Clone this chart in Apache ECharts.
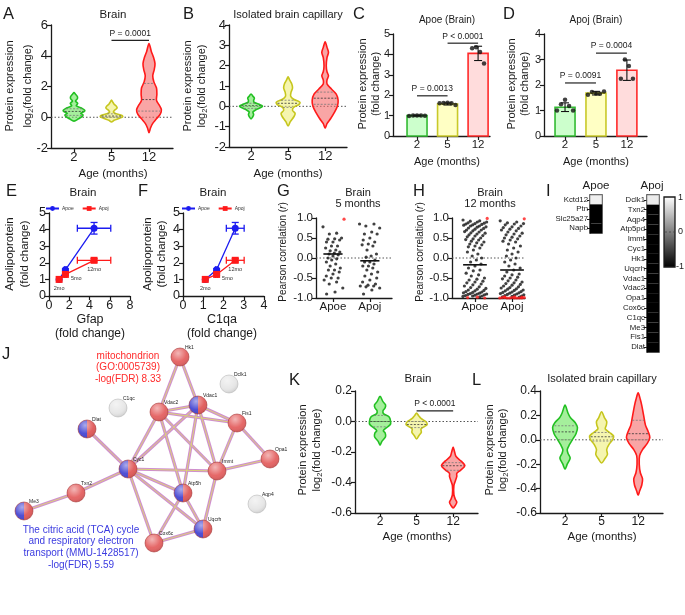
<!DOCTYPE html>
<html><head><meta charset="utf-8">
<script src="https://cdn.jsdelivr.net/npm/echarts@6/dist/echarts.min.js"></script>
<style>html,body{margin:0;padding:0;background:#fff}#c{width:685px;height:615px}</style>
</head><body><div id="c"></div>
<script>
const FONT='"Liberation Sans", Arial, Helvetica, sans-serif';
const INK='#1a1a1a';
// ================= DATA =================
const ageCats=['2','5','12'];
const apoCats=['Apoe','Apoj'];
// violin profiles: [y, half-width in category units]
const vioBrain2=[[-0.25,0],[-0.1,0.12],[0.05,0.22],[0.15,0.24],[0.25,0.18],[0.35,0.26],[0.45,0.29],[0.6,0.2],[0.75,0.06],[0.9,0.1],[1.05,0.04],[1.2,0.09],[1.35,0.09],[1.5,0.04],[1.6,0]];
const vioBrain5=[[-0.31,0],[-0.2,0.07],[-0.08,0.2],[0.03,0.3],[0.12,0.28],[0.22,0.12],[0.33,0.05],[0.45,0.08],[0.6,0.15],[0.72,0.13],[0.85,0.07],[1.0,0.03],[1.12,0]];
const vioBrain12=[[-1.0,0],[-0.7,0.04],[-0.4,0.1],[-0.1,0.2],[0.2,0.3],[0.5,0.33],[0.8,0.27],[1.1,0.2],[1.5,0.21],[1.9,0.2],[2.3,0.13],[2.7,0.1],[3.1,0.14],[3.5,0.16],[3.9,0.12],[4.3,0.06],[4.8,0]];
const qBrain=[[0.12,0.38,0.55],[0.0,0.08,0.22],[0.4,1.15,2.2]];
const vioCap2=[[-0.62,0],[-0.5,0.05],[-0.4,0.07],[-0.28,0.05],[-0.15,0.15],[0,0.31],[0.1,0.22],[0.2,0.08],[0.3,0.07],[0.4,0.09],[0.5,0.05],[0.6,0]];
const vioCap5=[[-0.97,0],[-0.75,0.06],[-0.5,0.16],[-0.35,0.19],[-0.2,0.12],[-0.05,0.15],[0.1,0.3],[0.2,0.32],[0.35,0.15],[0.5,0.07],[0.7,0.08],[0.9,0.12],[1.1,0.1],[1.3,0.04],[1.45,0]];
const vioCap12=[[-1.07,0],[-0.85,0.05],[-0.6,0.15],[-0.3,0.25],[0,0.33],[0.3,0.35],[0.6,0.3],[0.85,0.17],[1.1,0.05],[1.3,0.05],[1.5,0.09],[1.7,0.05],[2.0,0.03],[2.4,0.05],[2.65,0.09],[2.9,0.05],[3.17,0]];
const qCap=[[-0.1,0.03,0.15],[-0.05,0.15,0.3],[0.1,0.4,0.7]];
const vioMitoBrain2=[[-0.155,0],[-0.13,0.05],[-0.1,0.15],[-0.075,0.14],[-0.06,0.09],[-0.04,0.18],[-0.02,0.28],[0.0,0.29],[0.03,0.25],[0.05,0.1],[0.07,0.08],[0.09,0.14],[0.11,0.15],[0.13,0.08],[0.165,0]];
const vioMitoBrain5=[[-0.115,0],[-0.09,0.07],[-0.07,0.13],[-0.05,0.12],[-0.035,0.2],[-0.02,0.29],[0.0,0.25],[0.02,0.12],[0.04,0.05],[0.055,0]];
const vioMitoBrain12=[[-0.567,0],[-0.55,0.06],[-0.53,0.1],[-0.51,0.06],[-0.48,0.02],[-0.42,0.02],[-0.39,0.06],[-0.36,0.1],[-0.34,0.1],[-0.32,0.2],[-0.29,0.32],[-0.26,0.22],[-0.23,0.08],[-0.2,0.04],[-0.167,0]];
const qMitoBrain=[[-0.035,0.0,0.04],[-0.04,-0.02,0.0],[-0.32,-0.29,-0.27]];
const vioMitoCap2=[[-0.24,0],[-0.2,0.06],[-0.15,0.14],[-0.11,0.08],[-0.08,0.06],[-0.04,0.12],[0.0,0.2],[0.05,0.3],[0.1,0.34],[0.14,0.28],[0.18,0.15],[0.22,0.08],[0.285,0]];
const vioMitoCap5=[[-0.19,0],[-0.16,0.08],[-0.12,0.16],[-0.08,0.14],[-0.04,0.2],[0.0,0.3],[0.03,0.33],[0.06,0.22],[0.09,0.1],[0.12,0.13],[0.15,0.14],[0.18,0.08],[0.23,0]];
const vioMitoCap12=[[-0.455,0],[-0.42,0.04],[-0.37,0.1],[-0.32,0.12],[-0.27,0.06],[-0.2,0.03],[-0.13,0.04],[-0.08,0.12],[-0.03,0.25],[0.02,0.32],[0.07,0.27],[0.12,0.2],[0.2,0.15],[0.28,0.1],[0.33,0.06],[0.385,0]];
const qMitoCap=[[0.0,0.065,0.115],[-0.01,0.025,0.06],[0.0,0.05,0.16]];
// bars (fold change)
const apoeBrainMean=[1.0,1.57,4.05];
const apoeBrainSD=[0.02,0.05,0.35];
const apoeBrainPts=[[0.98,1.0,1.01,1.0,0.99],[1.6,1.62,1.63,1.6,1.52],[4.3,4.35,4.12,3.55]];
const apojBrainMean=[1.13,1.68,2.58];
const apojBrainSD=[0.17,0.07,0.4];
const apojBrainPts=[[1.0,1.25,1.42,1.18,1.0],[1.62,1.73,1.67,1.66,1.75],[2.25,3.0,2.75,2.25]];
// P-value annotations: [from, to, level, text]
const pBrain=[[2,3,5.0,'P = 0.0001']];
const pApoe=[[1,2,1.97,'P = 0.0013'],[2,3,4.55,'P < 0.0001']];
const pApoj=[[1,2,2.08,'P = 0.0091'],[2,3,3.25,'P = 0.0004']];
const pMitoBrain=[[2,3,0.07,'P < 0.0001']];
// E/F
const ageLabels=['2mo','5mo','12mo'];
const gfapFC=[1.0,1.62,4.45], gfapSD=[0,0.08,1.65];
const c1qaFC=[1.1,1.66,2.58], c1qaSD=[0,0.05,0.44];
const apoeFC=[1.0,1.58,4.08], apoeSD=[0,0.06,0.35];
const apojFC=[1.0,1.3,2.15], apojSD=[0,0.05,0.1];
// G/H Pearson r
const g5Apoe=[0.78,0.62,0.6,0.5,0.48,0.47,0.45,0.4,0.4,0.3,0.3,0.25,0.2,0.18,0.15,0.12,0.1,0.08,0.05,0.0,-0.02,-0.05,-0.1,-0.15,-0.2,-0.25,-0.3,-0.3,-0.35,-0.4,-0.45,-0.5,-0.5,-0.55,-0.6,-0.65,-0.75,-0.85,-0.9];
const g5ApoeRed=[0.97];
const g5Apoj=[0.85,0.85,0.8,0.75,0.65,0.6,0.6,0.5,0.45,0.4,0.35,0.33,0.3,0.2,0.1,0.05,0.02,-0.05,-0.1,-0.1,-0.15,-0.2,-0.2,-0.25,-0.3,-0.35,-0.4,-0.45,-0.5,-0.55,-0.6,-0.65,-0.68,-0.7,-0.7,-0.72,-0.75,-0.8,-0.9];
const g5Means=[0.1,-0.07];
const h12Apoe=[0.95,0.93,0.92,0.9,0.9,0.88,0.87,0.86,0.85,0.84,0.83,0.82,0.8,0.8,0.78,0.77,0.75,0.74,0.72,0.7,0.7,0.68,0.66,0.65,0.63,0.62,0.6,0.58,0.56,0.55,0.53,0.5,0.48,0.46,0.45,0.42,0.4,0.38,0.35,0.33,0.3,0.28,0.25,0.2,0.15,0.1,0.05,0.0,-0.05,-0.1,-0.15,-0.2,-0.25,-0.3,-0.32,-0.38,-0.42,-0.45,-0.5,-0.53,-0.55,-0.58,-0.6,-0.62,-0.65,-0.67,-0.7,-0.72,-0.74,-0.76,-0.78,-0.8,-0.81,-0.82,-0.84,-0.85,-0.86,-0.87,-0.88,-0.89,-0.9,-0.9,-0.91,-0.92,-0.93,-0.94,-0.95,-0.95,-0.96,-0.97];
const h12ApoeRed=[0.99,-0.98,-0.99,-1.0];
const h12Apoj=[0.93,0.9,0.88,0.86,0.85,0.83,0.8,0.78,0.76,0.74,0.72,0.7,0.68,0.65,0.62,0.6,0.58,0.55,0.52,0.5,0.48,0.45,0.42,0.4,0.35,0.3,0.25,0.2,0.15,0.1,0.05,0.0,-0.05,-0.1,-0.15,-0.2,-0.25,-0.3,-0.35,-0.4,-0.42,-0.45,-0.48,-0.5,-0.52,-0.55,-0.57,-0.6,-0.62,-0.64,-0.66,-0.68,-0.7,-0.72,-0.74,-0.75,-0.77,-0.78,-0.8,-0.81,-0.82,-0.84,-0.85,-0.86,-0.87,-0.88,-0.89,-0.9,-0.91,-0.92,-0.93,-0.94,-0.95,-0.96,-0.97,-0.98];
const h12ApojRed=[0.98,-0.97,-0.98,-0.98,-0.99,-0.99,-1.0,-1.0,-1.0,-1.0,-1.0,-0.99,-1.0,-0.98,-1.0];
const h12Means=[-0.17,-0.3];
// I heatmaps
const apoeGenes=['Kctd12','Ptn','Slc25a27','Napb'];
const apoeR=[0.95,-1,-1,-1];
const apojGenes=['Dclk1','Txn2','Aqp4','Atp5pd','Immt','Cyc1','Hk1','Uqcrh','Vdac1','Vdac2','Opa1','Cox6c','C1qc','Me3','Fis1','Dlat'];
const apojR=[0.92,-1,-1,-1,-1,-1,-1,-1,-1,-1,-1,-1,-1,-1,-1,-1];
// J network
const netNames=['Hk1','Vdac1','Vdac2','Dclk1','C1qc','Dlat','Fis1','Opa1','Cyc1','Immt','Atp5h','Txn2','Me3','Aqp4','Uqcrh','Cox6c'];
const netX=[180,198,159,229,118,87,237,270,128,217,183,76,24,257,203,154];
const netY=[357,405,412,384,408,429,423,459,469,471,493,493,511,504,529,543];
const netKind=['red','half','red','gray','gray','half','red','red','half','red','half','red','half','gray','half','red'];
const netEdges=[['Hk1','Vdac1'],['Hk1','Vdac2'],['Vdac1','Vdac2'],['Vdac1','Fis1'],['Vdac2','Fis1'],['Vdac1','Cyc1'],['Vdac2','Cyc1'],['Vdac1','Immt'],['Vdac2','Immt'],['Vdac1','Atp5h'],['Vdac2','Atp5h'],['Fis1','Immt'],['Fis1','Opa1'],['Immt','Opa1'],['Cyc1','Immt'],['Cyc1','Dlat'],['Cyc1','Txn2'],['Cyc1','Atp5h'],['Cyc1','Uqcrh'],['Cyc1','Cox6c'],['Immt','Uqcrh'],['Atp5h','Uqcrh'],['Atp5h','Cox6c'],['Cox6c','Uqcrh'],['Txn2','Me3']];

// ================= BUILD =================
const grids=[],xAxes=[],yAxes=[],series=[],graphics=[];
const VCOL=[{fill:'rgba(105,228,90,0.6)',stroke:'#22c022'},{fill:'rgba(236,236,110,0.55)',stroke:'#c6c61e'},{fill:'rgba(245,105,105,0.6)',stroke:'#ff1a1a'}];
const BFILL=['#ccffcc','#ffffc4','#ffdcdc'], BSTROKE=['#33bb33','#c9c92a','#ff2a2a'];

function vAxis(o){
  const ax={type:'value',min:o.min,max:o.max,splitLine:{show:false},show:o.show!==false,
    axisLine:{show:true,onZero:false,lineStyle:{color:INK,width:1.3}},
    axisTick:{show:true,length:4,lineStyle:{color:INK,width:1.2}},
    axisLabel:{show:true,color:INK,fontFamily:FONT,fontSize:o.fs||11,margin:o.margin||3}};
  if(o.interval!=null) ax.interval=o.interval;
  if(o.custom){ax.axisLabel.customValues=o.custom;ax.axisTick.customValues=o.custom;}
  if(o.fmt) ax.axisLabel.formatter=o.fmt;
  return ax;
}
function addGrid(l,t,w,h,xa,ya,extra){
  const gi=grids.length;
  grids.push(Object.assign({left:l,top:t,width:w,height:h},extra||{}));
  xa.gridIndex=gi; ya.gridIndex=gi; xAxes.push(xa); yAxes.push(ya); return gi;
}
function ln(a,b,st){return {type:'line',shape:{x1:a[0],y1:a[1],x2:b[0],y2:b[1]},style:st};}
function widthAt(prof,q){
  for(let k=1;k<prof.length;k++){
    if(q<=prof[k][0]){const [y0,w0]=prof[k-1],[y1,w1]=prof[k];return w0+(w1-w0)*(q-y0)/(y1-y0);}
  }return 0;
}
function zeroLine(gi,x0,x1){
  series.push({type:'line',xAxisIndex:gi,yAxisIndex:gi,data:[[x0,0],[x1,0]],symbol:'none',silent:true,z:1,
    lineStyle:{color:'#555',width:1,type:[1.5,2]}});
}
function violins(gi,profiles,quarts){
  series.push({type:'custom',xAxisIndex:gi,yAxisIndex:gi,silent:true,z:3,
    data:profiles.map((p,i)=>[i+1,p[0][0]]),encode:{x:0,y:1},
    renderItem:(params,api)=>{
      const i=params.dataIndex,prof=profiles[i],pos=i+1;
      const right=prof.map(([y,w])=>api.coord([pos+w,y]));
      const left=prof.slice(1,-1).reverse().map(([y,w])=>api.coord([pos-w,y]));
      const ch=[{type:'polygon',shape:{points:right.concat(left),smooth:0.3},style:{fill:VCOL[i].fill,stroke:VCOL[i].stroke,lineWidth:1.6}}];
      quarts[i].forEach((q,k)=>{const w=widthAt(prof,q)*0.92;
        ch.push(ln(api.coord([pos-w,q]),api.coord([pos+w,q]),{stroke:k===1?'#333':'#777',lineWidth:0.8,lineDash:[2,1.5]}));});
      return {type:'group',children:ch};
    }});
}
function pBars(gi,items){
  series.push({type:'custom',xAxisIndex:gi,yAxisIndex:gi,silent:true,z:6,
    data:items.map(d=>[d[0],d[2]]),encode:{x:0,y:1},
    renderItem:(params,api)=>{
      const d=items[params.dataIndex];const a=api.coord([d[0],d[2]]),b=api.coord([d[1],d[2]]);
      return {type:'group',children:[ln(a,b,{stroke:'#222',lineWidth:1.2}),
        {type:'text',x:(a[0]+b[0])/2,y:a[1]-7,style:{text:d[3],fontSize:8.5,fontFamily:FONT,fill:INK,align:'center',verticalAlign:'middle'}}]};
    }});
}
function bars(gi,means,sds,pts){
  series.push({type:'custom',xAxisIndex:gi,yAxisIndex:gi,silent:true,z:2,
    data:means.map((m,i)=>[i+1,m]),encode:{x:0,y:1},
    renderItem:(params,api)=>{const i=params.dataIndex;const t=api.coord([i+1,means[i]]),b=api.coord([i+1,0]);
      return {type:'rect',shape:{x:t[0]-10,y:t[1],width:20,height:b[1]-t[1]},style:{fill:BFILL[i],stroke:BSTROKE[i],lineWidth:1.6}};}});
  series.push({type:'custom',xAxisIndex:gi,yAxisIndex:gi,silent:true,z:4,
    data:means.map((m,i)=>[i+1,m]),encode:{x:0,y:1},
    renderItem:(params,api)=>{const i=params.dataIndex;const a=api.coord([i+1,means[i]-sds[i]]),b=api.coord([i+1,means[i]+sds[i]]);const st={stroke:'#111',lineWidth:1.1};
      return {type:'group',children:[ln(a,b,st),ln([a[0]-4,a[1]],[a[0]+4,a[1]],st),ln([b[0]-4,b[1]],[b[0]+4,b[1]],st)]};}});
  series.push({type:'scatter',xAxisIndex:gi,yAxisIndex:gi,silent:true,z:5,symbolSize:4.5,itemStyle:{color:'#111'},
    data:pts.flatMap((arr,i)=>arr.map((v,j)=>[i+1+(j-(arr.length-1)/2)*0.13,v]))});
}
function jit(i,spread){return ((((i*7)%11)/10)-0.5)*2*spread;}
function swarm(gi,groups,reds,means,spread,half){
  groups.forEach((arr,g)=>{
    series.push({type:'scatter',xAxisIndex:gi,yAxisIndex:gi,silent:true,z:4,symbolSize:3.2,itemStyle:{color:'#111'},
      data:arr.map((v,i)=>[g+1+jit(i,spread*(0.55+0.45*Math.abs(v))),v])});
    series.push({type:'scatter',xAxisIndex:gi,yAxisIndex:gi,silent:true,z:5,symbolSize:3.2,itemStyle:{color:'#ff1a1a'},
      data:reds[g].map((v,i)=>[g+1+jit(i+3,spread),v])});
  });
  series.push({type:'custom',xAxisIndex:gi,yAxisIndex:gi,silent:true,z:6,
    data:means.map((m,i)=>[i+1,m]),encode:{x:0,y:1},
    renderItem:(params,api)=>{const i=params.dataIndex;const a=api.coord([i+1-half,means[i]]),b=api.coord([i+1+half,means[i]]);
      return ln(a,b,{stroke:'#111',lineWidth:1.6});}});
}
function errs(gi,xs,ys,xsd,ysd,color){
  series.push({type:'custom',xAxisIndex:gi,yAxisIndex:gi,silent:true,z:4,
    data:xs.map((x,i)=>[x,ys[i]]),encode:{x:0,y:1},
    renderItem:(params,api)=>{const i=params.dataIndex,ch=[],st={stroke:color,lineWidth:1.3};
      if(xsd[i]>0){const a=api.coord([xs[i]-xsd[i],ys[i]]),b=api.coord([xs[i]+xsd[i],ys[i]]);
        ch.push(ln(a,b,st),ln([a[0],a[1]-3.5],[a[0],a[1]+3.5],st),ln([b[0],b[1]-3.5],[b[0],b[1]+3.5],st));}
      if(ysd[i]>0){const a=api.coord([xs[i],ys[i]-ysd[i]]),b=api.coord([xs[i],ys[i]+ysd[i]]);
        ch.push(ln(a,b,st),ln([a[0]-3.5,a[1]],[a[0]+3.5,a[1]],st),ln([b[0]-3.5,b[1]],[b[0]+3.5,b[1]],st));}
      return {type:'group',children:ch};}});
}
function fcLines(gi,xs,xsd){
  errs(gi,xs,apoeFC,xsd,apoeSD,'#1c1cf0');
  errs(gi,xs,apojFC,xsd,apojSD,'#ff1a1a');
  series.push({type:'line',name:'Apoe',xAxisIndex:gi,yAxisIndex:gi,z:5,data:xs.map((x,i)=>[x,apoeFC[i]]),
    symbol:'circle',symbolSize:7,color:'#1c1cf0',itemStyle:{color:'#1c1cf0'},lineStyle:{width:1.3,color:'#1c1cf0'}});
  const pos=['bottom',[9,5],'bottom'];
  series.push({type:'line',name:'Apoj',xAxisIndex:gi,yAxisIndex:gi,z:6,
    data:xs.map((x,i)=>({value:[x,apojFC[i]],label:{show:true,formatter:ageLabels[i],position:pos[i],distance:3,fontSize:5.5,fontFamily:FONT,color:'#333'}})),
    symbol:'rect',symbolSize:7,color:'#ff1a1a',itemStyle:{color:'#ff1a1a'},lineStyle:{width:1.3,color:'#ff1a1a'}});
}
function heat(l,t,w,h,genes,vals){
  const gi=addGrid(l,t,w,h,{type:'category',data:['r'],show:false,boundaryGap:true},
    {type:'category',data:genes,inverse:true,boundaryGap:true,
     axisLine:{show:true,lineStyle:{color:INK,width:1.2}},axisTick:{show:true,interval:0,length:3,alignWithLabel:true,lineStyle:{color:INK}},
     axisLabel:{interval:0,fontSize:7.8,fontFamily:FONT,color:INK,margin:2}},
    {show:true,borderColor:INK,borderWidth:1.4,backgroundColor:'transparent'});
  series.push({type:'custom',xAxisIndex:gi,yAxisIndex:gi,silent:true,z:2,
    data:vals.map((v,i)=>[0,i,v]),encode:{x:0,y:1},
    renderItem:(params,api)=>{const c=api.coord([api.value(0),api.value(1)]),s=api.size([1,1]);const v=api.value(2);const g=Math.round((v+1)/2*245);
      return {type:'rect',shape:{x:c[0]-s[0]/2,y:c[1]-s[1]/2,width:s[0],height:s[1]},style:{fill:`rgb(${g},${g},${g})`,stroke:'#999',lineWidth:v>0?0.8:0}};}});
}
const ageFmt=v=>ageCats[Math.round(v)-1]||'';
const apoFmt=v=>apoCats[Math.round(v)-1]||'';
// A
const gA=addGrid(51,25,122,123,vAxis({min:0.387,max:3.64,custom:[1,2,3],fmt:ageFmt,fs:13,margin:3}),vAxis({min:-2,max:6,interval:2,fs:13}));
zeroLine(gA,0.387,3.64);violins(gA,[vioBrain2,vioBrain5,vioBrain12],qBrain);pBars(gA,pBrain);
// B
const gB=addGrid(229,25,118,122,vAxis({min:0.405,max:3.59,custom:[1,2,3],fmt:ageFmt,fs:13,margin:3}),vAxis({min:-2,max:4,interval:1,fs:13}));
zeroLine(gB,0.405,3.59);violins(gB,[vioCap2,vioCap5,vioCap12],qCap);
// C
const gC=addGrid(393,34,97,102,vAxis({min:0.213,max:3.39,custom:[1,2,3],fmt:ageFmt,fs:11.5}),vAxis({min:0,max:5,interval:1,fs:11}));
bars(gC,apoeBrainMean,apoeBrainSD,apoeBrainPts);pBars(gC,pApoe);
// D
const gD=addGrid(544,34,103,102,vAxis({min:0.32,max:3.65,custom:[1,2,3],fmt:ageFmt,fs:11.5}),vAxis({min:0,max:4,interval:1,fs:11}));
bars(gD,apojBrainMean,apojBrainSD,apojBrainPts);pBars(gD,pApoj);
// E, F
const gE=addGrid(49,213,81,83,vAxis({min:0,max:8,interval:2,fs:12.5}),vAxis({min:0,max:5,interval:1,fs:12.5}));
fcLines(gE,gfapFC,gfapSD);
const gF=addGrid(183,213,81,83,vAxis({min:0,max:4,interval:1,fs:12.5}),vAxis({min:0,max:5,interval:1,fs:12.5}));
fcLines(gF,c1qaFC,c1qaSD);
// G, H
const rFmt=v=>v.toFixed(1);
const gG=addGrid(316,218,76,80,vAxis({min:0.54,max:2.6,custom:[1,2],fmt:apoFmt,fs:11.5}),vAxis({min:-1,max:1,interval:0.5,fs:11.5,fmt:rFmt}));
zeroLine(gG,0.54,2.6);swarm(gG,[g5Apoe,g5Apoj],[g5ApoeRed,[]],g5Means,0.3,0.26);
const gH=addGrid(452,218,73,80,vAxis({min:0.38,max:2.35,custom:[1,2],fmt:apoFmt,fs:11.5}),vAxis({min:-1,max:1,interval:0.5,fs:11.5,fmt:rFmt}));
zeroLine(gH,0.38,2.35);swarm(gH,[h12Apoe,h12Apoj],[h12ApoeRed,h12ApojRed],h12Means,0.33,0.32);
// I
heat(590,195,12,38,apoeGenes,apoeR);
heat(647,195,12,157,apojGenes,apojR);
// K, L
const fmt1=v=>v.toFixed(1);
const gK=addGrid(355,391,123,122,vAxis({min:0.315,max:3.68,custom:[1,2,3],fmt:ageFmt,fs:12}),vAxis({min:-0.6,max:0.2,interval:0.2,fs:12,fmt:fmt1}));
zeroLine(gK,0.315,3.68);violins(gK,[vioMitoBrain2,vioMitoBrain5,vioMitoBrain12],qMitoBrain);pBars(gK,pMitoBrain);
const gL=addGrid(540,391,123,122,vAxis({min:0.315,max:3.68,custom:[1,2,3],fmt:ageFmt,fs:12}),vAxis({min:-0.6,max:0.4,interval:0.2,fs:12,fmt:fmt1}));
zeroLine(gL,0.315,3.68);violins(gL,[vioMitoCap2,vioMitoCap5,vioMitoCap12],qMitoCap);
// J network
const gJ=addGrid(0,340,280,275,{type:'value',min:0,max:280,show:false},{type:'value',min:340,max:615,inverse:true,show:false});
const idx={};netNames.forEach((n,i)=>idx[n]=i);
const edgeCoords=netEdges.map(([a,b])=>({coords:[[netX[idx[a]],netY[idx[a]]],[netX[idx[b]],netY[idx[b]]]]}));
series.push({type:'lines',coordinateSystem:'cartesian2d',xAxisIndex:gJ,yAxisIndex:gJ,silent:true,z:2,data:edgeCoords,lineStyle:{color:'#cf8fcf',width:3.2,opacity:1}});
series.push({type:'lines',coordinateSystem:'cartesian2d',xAxisIndex:gJ,yAxisIndex:gJ,silent:true,z:3,data:edgeCoords,lineStyle:{color:'#dcd870',width:0.9,opacity:1}});
series.push({type:'custom',xAxisIndex:gJ,yAxisIndex:gJ,silent:true,z:5,
  data:netNames.map((n,i)=>[netX[i],netY[i]]),encode:{x:0,y:1},
  renderItem:(params,api)=>{
    const i=params.dataIndex,c=api.coord([netX[i],netY[i]]),r=9,k=netKind[i],ch=[];
    if(k==='half'){
      ch.push({type:'sector',shape:{cx:c[0],cy:c[1],r:r,r0:0,startAngle:Math.PI/2,endAngle:Math.PI*1.5},style:{fill:'#4646d2'}});
      ch.push({type:'sector',shape:{cx:c[0],cy:c[1],r:r,r0:0,startAngle:-Math.PI/2,endAngle:Math.PI/2},style:{fill:'#e05858'}});
    }else{
      ch.push({type:'circle',shape:{cx:c[0],cy:c[1],r:r},style:{fill:k==='red'?'#e46060':'#e6e6e6'}});
    }
    ch.push({type:'circle',shape:{cx:c[0],cy:c[1],r:r},style:{fill:new echarts.graphic.RadialGradient(0.4,0.3,0.75,[{offset:0,color:'rgba(255,255,255,0.55)'},{offset:0.6,color:'rgba(255,255,255,0.05)'},{offset:1,color:'rgba(0,0,0,0.15)'}]),stroke:k==='gray'?'#b8b8b8':'#a83a3a',lineWidth:0.6}});
    ch.push({type:'text',x:c[0]+5,y:c[1]-9,style:{text:netNames[i],fontSize:5,fontFamily:FONT,fill:'#222',align:'left',verticalAlign:'middle'}});
    return {type:'group',children:ch};
  }});

// ================= TEXT =================
function T(text,x,y,fs,o){o=o||{};return {type:'text',x:x,y:y,rotation:o.rot||0,z:100,silent:true,
  style:{text:text,fontSize:fs,fontFamily:FONT,fill:o.fill||INK,align:o.align||'center',verticalAlign:o.va||'middle',fontWeight:o.bold?'bold':'normal',rich:o.rich}};}
const R90=Math.PI/2;
function yName2(x1,x2,y,fs,l1,l2sub){
  graphics.push(T(l1,x1,y,fs,{rot:R90}));
  if(l2sub) graphics.push(T('{a|log}{s|2}{a|(fold change)}',x2,y,fs,{rot:R90,rich:{a:{fontSize:fs,fontFamily:FONT,fill:INK},s:{fontSize:fs*0.68,fontFamily:FONT,fill:INK,padding:[5,0,0,0]}}}));
  else graphics.push(T('(fold change)',x2,y,fs,{rot:R90}));
}
[['A',3,6],['B',183,6],['C',353,6],['D',503,6],['E',6,183],['F',138,183],['G',277,183],['H',413,183],['I',546,183],['J',2,346],['K',289,372],['L',472,372]]
 .forEach(([t,x,y])=>graphics.push(T(t,x,y,16.5,{align:'left',va:'top'})));
// titles
graphics.push(T('Brain',113,15,11.5),T('Isolated brain capillary',288,15,11),T('Apoe (Brain)',447,20,10),T('Apoj (Brain)',596,20,10),
  T('Brain',83,193,11.5),T('Brain',213,193,11.5),T('Brain',358,193,11),T('5 months',358,204,11),T('Brain',490,193,11),T('12 months',490,204,11),
  T('Apoe',596,186,11.5),T('Apoj',652,186,11.5),T('Brain',418,379,11.5),T('Isolated brain capillary',602,379,11));
// axis names
yName2(10,28,86,11,'Protein expression',true);
yName2(188,202,86,11,'Protein expression',true);
yName2(363,376,84,11,'Protein expression',false);
yName2(512,525,84,11,'Protein expression',false);
yName2(10,25,254,11.5,'Apolipoprotein',false);
yName2(148,162,254,11.5,'Apolipoprotein',false);
yName2(303,317,450,11,'Protein expression',true);
yName2(490,503,450,11,'Protein expression',true);
const pr={a:{fontSize:10,fontFamily:FONT,fill:INK},i:{fontSize:10,fontFamily:FONT,fill:INK,fontStyle:'italic'}};
graphics.push(T('{a|Pearson correlation (}{i|r}{a|)}',283,252,10,{rot:R90,rich:pr}),T('{a|Pearson correlation (}{i|r}{a|)}',420,252,10,{rot:R90,rich:pr}));
graphics.push(T('Age (months)',113,174,11.5),T('Age (months)',288,174,11.5),T('Age (months)',447,162,11),T('Age (months)',596,162,11),
  T('Gfap',90,320,12.5),T('(fold change)',90,334,12),T('C1qa',222,320,12.5),T('(fold change)',222,334,12),
  T('Age (months)',417,537,11.5),T('Age (months)',602,537,11.5));
// colorbar
graphics.push({type:'rect',z:100,shape:{x:664,y:197,width:11,height:70},style:{fill:new echarts.graphic.LinearGradient(0,0,0,1,[{offset:0,color:'#ffffff'},{offset:1,color:'#000000'}]),stroke:INK,lineWidth:1.3}});
graphics.push({type:'line',z:101,shape:{x1:665,y1:232,x2:674,y2:232},style:{stroke:'#444',lineWidth:0.8,lineDash:[2,2]}});
graphics.push(T('1',678,198,9,{align:'left'}),T('0',678,232,9,{align:'left'}),T('-1',676,267,9,{align:'left'}));
// J annotations
['mitochondrion','(GO:0005739)','-log(FDR) 8.33'].forEach((s,i)=>graphics.push(T(s,128,356+i*11.7,10,{fill:'#ff2a2a'})));
['The citric acid (TCA) cycle','and respiratory electron','transport (MMU-1428517)','-log(FDR) 5.59'].forEach((s,i)=>graphics.push(T(s,81,530+i*11.7,10,{fill:'#3b3be0'})));

const legendBase={itemWidth:13,itemHeight:6,itemGap:8,selectedMode:false,textStyle:{fontSize:5,fontFamily:FONT,color:'#333',padding:[0,0,0,-2]},data:['Apoe','Apoj']};
const option={animation:false,backgroundColor:'#fff',textStyle:{fontFamily:FONT},
  grid:grids,xAxis:xAxes,yAxis:yAxes,series:series,graphic:graphics,
  legend:[Object.assign({left:40,top:201},legendBase),Object.assign({left:176,top:201},legendBase)]};
const chart=echarts.init(document.getElementById('c'),null,{renderer:'canvas'});
chart.setOption(option);
</script></body></html>
